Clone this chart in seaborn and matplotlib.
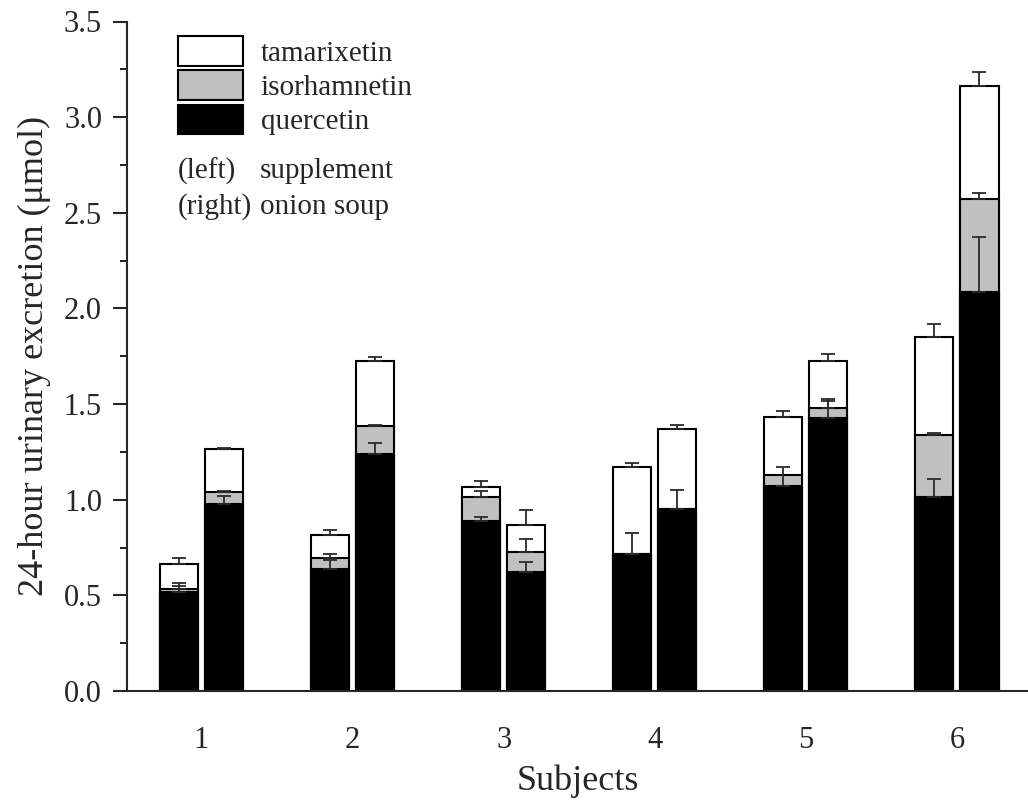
import numpy as np
import pandas as pd
import matplotlib
matplotlib.use("Agg")
import matplotlib.pyplot as plt
from matplotlib.patches import Patch
from matplotlib.ticker import MultipleLocator
import seaborn as sns

subjects = ["1", "2", "3", "4", "5", "6"]
meals = ["supplement", "onion soup"]

# left bars: supplement (stacked segments, umol)
querc_supp = [0.517, 0.636, 0.890, 0.714, 1.071, 1.014]
isorh_supp = [0.015, 0.058, 0.126, 0.000, 0.060, 0.324]
tamar_supp = [0.132, 0.123, 0.050, 0.459, 0.299, 0.513]
querc_supp_err = [0.030, 0.047, 0.018, 0.112, 0.099, 0.096]
isorh_supp_err = [0.034, 0.024, 0.029, 0.000, 0.000, 0.013]
tamar_supp_err = [0.030, 0.025, 0.032, 0.020, 0.036, 0.070]

# right bars: onion soup
querc_soup = [0.977, 1.239, 0.620, 0.951, 1.426, 2.087]
isorh_soup = [0.065, 0.148, 0.107, 0.000, 0.053, 0.485]
tamar_soup = [0.223, 0.338, 0.141, 0.419, 0.246, 0.593]
querc_soup_err = [0.044, 0.059, 0.056, 0.101, 0.090, 0.287]
isorh_soup_err = [0.004, 0.004, 0.069, 0.000, 0.050, 0.032]
tamar_soup_err = [0.007, 0.021, 0.080, 0.019, 0.036, 0.069]

df = pd.DataFrame({
    "subject": subjects * 2,
    "meal": [meals[0]] * 6 + [meals[1]] * 6,
    "quercetin": querc_supp + querc_soup,
    "isorhamnetin": isorh_supp + isorh_soup,
    "tamarixetin": tamar_supp + tamar_soup,
    "q_err": querc_supp_err + querc_soup_err,
    "i_err": isorh_supp_err + isorh_soup_err,
    "t_err": tamar_supp_err + tamar_soup_err,
})
df["q_i"] = df["quercetin"] + df["isorhamnetin"]
df["total"] = df["q_i"] + df["tamarixetin"]

sns.set_style("ticks")
plt.rcParams["font.family"] = ["Liberation Serif", "DejaVu Serif"]

fig = plt.figure(figsize=(10.28, 8.01), dpi=100)
ax = fig.add_axes([127 / 1028, 110 / 801, 1 - 127 / 1028, (691 - 21.5) / 801])

# stacked bars: draw cumulative totals from the top segment down
layers = [("total", "white"), ("q_i", "#c0c0c0"), ("quercetin", "black")]
for col, color in layers:
    sns.barplot(data=df, x="subject", y=col, hue="meal", order=subjects,
                hue_order=meals, palette={m: color for m in meals},
                width=0.596, gap=0.155, saturation=1, errorbar=None,
                edgecolor="black", linewidth=1.5, legend=False, ax=ax)

# bar centres of the last (black) layer, one container per meal
bar_conts = list(ax.containers[-2:])
centres = [np.sort([b.get_x() + b.get_width() / 2 for b in c]) for c in bar_conts]

# upper-only error bars at the top of each segment
for xs, meal in zip(centres, meals):
    sub = df[df["meal"] == meal]
    for top_col, err_col in [("quercetin", "q_err"), ("q_i", "i_err"), ("total", "t_err")]:
        err = sub[err_col].to_numpy()
        top = sub[top_col].to_numpy()
        m = err > 0
        ax.errorbar(xs[m], top[m], yerr=[np.zeros(m.sum()), err[m]], fmt="none",
                    ecolor="#2a2a2a", elinewidth=1.3, capsize=5, capthick=1.3, zorder=5)

ax.set_ylim(0, 3.5)
ax.set_xlim(-0.493, 5.47)
ax.yaxis.set_major_locator(MultipleLocator(0.5))
ax.yaxis.set_minor_locator(MultipleLocator(0.25))
ax.yaxis.set_major_formatter(matplotlib.ticker.FormatStrFormatter("%.1f"))
ax.tick_params(axis="y", which="major", length=10, width=1.5, labelsize=22, pad=8, direction="out")
ax.tick_params(axis="y", which="minor", length=5, width=1.5, direction="out")
ax.tick_params(axis="x", length=0, labelsize=22, pad=25)

sns.despine(ax=ax)
for s in ["left", "bottom"]:
    ax.spines[s].set_linewidth(1.5)

ax.set_xlabel("Subjects", fontsize=26, labelpad=7)
ax.set_ylabel("24-hour urinary excretion (\u03bcmol)", fontsize=26, labelpad=9)

handles = [Patch(facecolor="white", edgecolor="black", linewidth=1.5),
           Patch(facecolor="#c0c0c0", edgecolor="black", linewidth=1.5),
           Patch(facecolor="black", edgecolor="black", linewidth=1.5)]
fig.legend(handles, ["tamarixetin", "isorhamnetin", "quercetin"],
           loc="upper left", bbox_to_anchor=(178 / 1028, 1 - 36 / 801),
           frameon=False, fontsize=21, handlelength=2.24, handleheight=1.2,
           handletextpad=0.59, labelspacing=0.12, borderpad=0, borderaxespad=0)

fig.text(178 / 1028, 1 - 171 / 801, "(left)", fontsize=21, va="center")
fig.text(260 / 1028, 1 - 171 / 801, "supplement", fontsize=21, va="center")
fig.text(178 / 1028, 1 - 207 / 801, "(right)", fontsize=21, va="center")
fig.text(260 / 1028, 1 - 207 / 801, "onion soup", fontsize=21, va="center")

fig.savefig("out.png", dpi=100)
